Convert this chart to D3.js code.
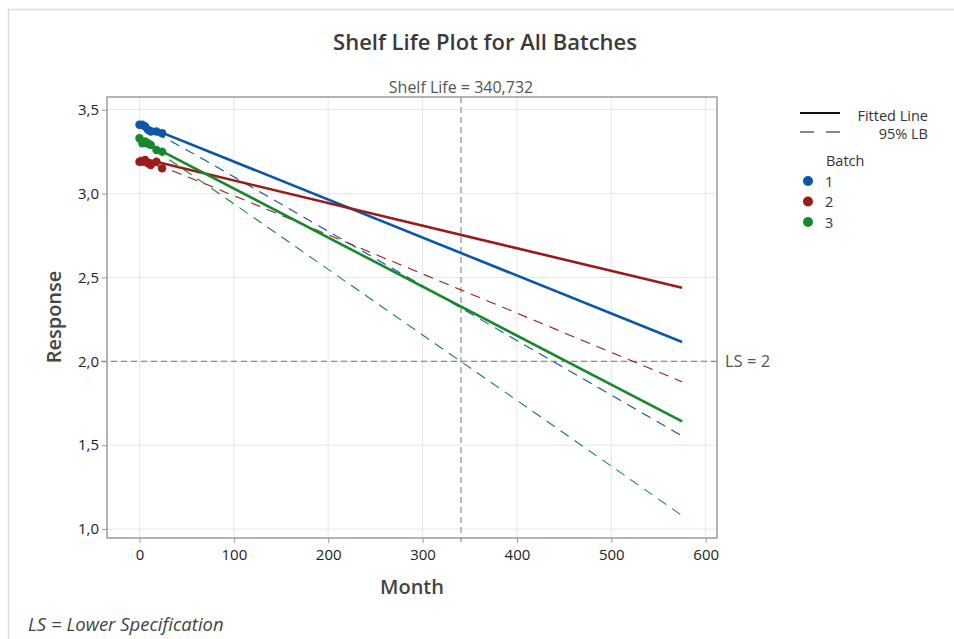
<!DOCTYPE html>
<html>
<head>
<meta charset="utf-8">
<script src="https://cdn.jsdelivr.net/npm/d3@7"></script>
<style>
  html, body { margin: 0; padding: 0; background: #fff; }
  svg { display: block; font-family: "Open Sans", "Noto Sans", sans-serif; }
</style>
</head>
<body>
<svg id="chart" width="954" height="639"></svg>
<script>
// Stability study: response per batch over time (months)
const batches = ["1", "2", "3"];
const batchColors = ["#0b56a8", "#9b1a1a", "#16892c"];

// Observed measurements
const sampleMonths = [0, 3, 6, 9, 12, 18, 24];
const batch1Values = [3.41, 3.41, 3.40, 3.38, 3.37, 3.37, 3.36];
const batch2Values = [3.19, 3.19, 3.20, 3.18, 3.17, 3.19, 3.15];
const batch3Values = [3.33, 3.30, 3.31, 3.30, 3.29, 3.26, 3.25];

// Fitted regression lines (value at start and end month)
const fitMonths = [0, 575];
const batch1Fit = [3.417, 2.115];
const batch2Fit = [3.213, 2.438];
const batch3Fit = [3.322, 1.642];

// One-sided 95% lower confidence bound for each batch
const lbMonths = [0, 25, 50, 100, 150, 200, 300, 400, 500, 575];
const batch1LB = [3.394, 3.336, 3.260, 3.100, 2.938, 2.775, 2.450, 2.124, 1.799, 1.555];
const batch2LB = [3.190, 3.155, 3.102, 2.987, 2.871, 2.754, 2.521, 2.287, 2.053, 1.878];
const batch3LB = [3.299, 3.225, 3.132, 2.939, 2.744, 2.548, 2.157, 1.767, 1.375, 1.080];

// Specification and estimated shelf life
const lowerSpec = 2;
const shelfLife = 340.732;

const xTicks = [0, 100, 200, 300, 400, 500, 600];
const yTicks = [1.0, 1.5, 2.0, 2.5, 3.0, 3.5];

const observed = [batch1Values, batch2Values, batch3Values];
const fits = [batch1Fit, batch2Fit, batch3Fit];
const lbs = [batch1LB, batch2LB, batch3LB];

const svg = d3.select("#chart");
const plot = { left: 107, right: 717, top: 97, bottom: 538 };

const x = d3.scaleLinear().domain([-34.4, 612]).range([plot.left, plot.right]);
const y = d3.scaleLinear().domain([0.9465, 3.5757]).range([plot.bottom, plot.top]);

const fmt = d3.format(".1f");
const commaDec = v => fmt(v).replace(".", ",");

// outer frame
svg.append("path")
  .attr("d", "M8.5,639 L8.5,9.5 L954,9.5")
  .attr("fill", "none").attr("stroke", "#dcdcdc").attr("stroke-width", 1.5);

// title
svg.append("text")
  .attr("x", 485).attr("y", 50)
  .attr("text-anchor", "middle")
  .attr("font-size", 22).attr("font-weight", 600).attr("fill", "#3a3a3a")
  .text("Shelf Life Plot for All Batches");

// gridlines
const grid = svg.append("g");
grid.selectAll("line.gx").data(xTicks).join("line")
  .attr("x1", d => x(d)).attr("x2", d => x(d))
  .attr("y1", plot.top).attr("y2", plot.bottom)
  .attr("stroke", "#e6e6e6").attr("stroke-width", 1);
grid.selectAll("line.gy").data(yTicks).join("line")
  .attr("x1", plot.left).attr("x2", plot.right)
  .attr("y1", d => y(d)).attr("y2", d => y(d))
  .attr("stroke", "#e6e6e6").attr("stroke-width", 1);

// axes
const xAxis = d3.axisBottom(x).tickValues(xTicks).tickSize(5).tickPadding(6).tickFormat(d3.format("d"));
const yAxis = d3.axisLeft(y).tickValues(yTicks).tickSize(5).tickPadding(3).tickFormat(commaDec);

const gx = svg.append("g").attr("transform", `translate(0,${plot.bottom})`).call(xAxis);
const gy = svg.append("g").attr("transform", `translate(${plot.left},0)`).call(yAxis);
[gx, gy].forEach(g => {
  g.select(".domain").remove();
  g.selectAll(".tick line").attr("stroke", "#999");
  g.selectAll(".tick text").attr("font-size", 15).attr("fill", "#222")
    .attr("font-family", "\"Open Sans\", sans-serif");
});

// reference lines: lower spec and shelf life
svg.append("line")
  .attr("x1", plot.left - 6).attr("x2", plot.right)
  .attr("y1", y(lowerSpec)).attr("y2", y(lowerSpec))
  .attr("stroke", "#8c8c8c").attr("stroke-width", 1.2).attr("stroke-dasharray", "6,4");
svg.append("line")
  .attr("x1", x(shelfLife)).attr("x2", x(shelfLife))
  .attr("y1", plot.top).attr("y2", plot.bottom + 4)
  .attr("stroke", "#8c8c8c").attr("stroke-width", 1.2).attr("stroke-dasharray", "6,4");

svg.append("text")
  .attr("x", x(shelfLife)).attr("y", plot.top - 4)
  .attr("text-anchor", "middle").attr("font-size", 16).attr("fill", "#555")
  .text("Shelf Life = " + String(shelfLife).replace(".", ","));
svg.append("text")
  .attr("x", plot.right + 8).attr("y", y(lowerSpec) + 6)
  .attr("font-size", 16.5).attr("fill", "#555")
  .text("LS = " + lowerSpec);

// clip series to the plot area
svg.append("clipPath").attr("id", "plotclip")
  .append("rect").attr("x", plot.left).attr("y", plot.top)
  .attr("width", plot.right - plot.left).attr("height", plot.bottom - plot.top);

const series = svg.append("g").attr("clip-path", "url(#plotclip)");
const line = d3.line().x(d => x(d[0])).y(d => y(d[1]));

// lower bounds (dashed, thin)
lbs.forEach((vals, i) => {
  series.append("path")
    .datum(lbMonths.map((m, j) => [m, vals[j]]))
    .attr("d", d3.line().curve(d3.curveMonotoneX).x(d => x(d[0])).y(d => y(d[1])))
    .attr("fill", "none").attr("stroke", batchColors[i])
    .attr("stroke-width", 1.1).attr("stroke-dasharray", "10,7");
});

// fitted lines
fits.forEach((vals, i) => {
  series.append("path")
    .datum(fitMonths.map((m, j) => [m, vals[j]]))
    .attr("d", line)
    .attr("fill", "none").attr("stroke", batchColors[i])
    .attr("stroke-width", 2.6);
});

// observed points
observed.forEach((vals, i) => {
  series.selectAll(null).data(sampleMonths.map((m, j) => [m, vals[j]])).join("circle")
    .attr("cx", d => x(d[0])).attr("cy", d => y(d[1])).attr("r", 4.2)
    .attr("fill", batchColors[i]);
});

// plot border
svg.append("rect")
  .attr("x", plot.left).attr("y", plot.top)
  .attr("width", plot.right - plot.left).attr("height", plot.bottom - plot.top)
  .attr("fill", "none").attr("stroke", "#9a9a9a").attr("stroke-width", 1.5);

// axis titles
svg.append("text")
  .attr("x", 412).attr("y", 594)
  .attr("text-anchor", "middle").attr("font-size", 20).attr("font-weight", 600).attr("fill", "#444")
  .text("Month");
svg.append("text")
  .attr("transform", "translate(61,317) rotate(-90)")
  .attr("text-anchor", "middle").attr("font-size", 20).attr("font-weight", 600).attr("fill", "#444")
  .text("Response");

// legend
const legend = svg.append("g");
legend.append("line").attr("x1", 800).attr("x2", 840).attr("y1", 113).attr("y2", 113)
  .attr("stroke", "#111").attr("stroke-width", 2.2);
legend.append("text").attr("x", 928).attr("y", 121).attr("text-anchor", "end")
  .attr("font-size", 14.5).attr("fill", "#333").text("Fitted Line");
legend.append("line").attr("x1", 800).attr("x2", 840).attr("y1", 132).attr("y2", 132)
  .attr("stroke", "#111").attr("stroke-width", 1.2).attr("stroke-dasharray", "14,12");
legend.append("text").attr("x", 928).attr("y", 139).attr("text-anchor", "end")
  .attr("font-size", 14.5).attr("fill", "#333").text("95% LB");
legend.append("text").attr("x", 826).attr("y", 166)
  .attr("font-size", 14.5).attr("fill", "#333").text("Batch");
batches.forEach((b, i) => {
  const cy = 181 + i * 20.5;
  legend.append("circle").attr("cx", 808).attr("cy", cy).attr("r", 5).attr("fill", batchColors[i]);
  legend.append("text").attr("x", 825).attr("y", cy + 5.5)
    .attr("font-size", 14.5).attr("fill", "#333").text(b);
});

// footnote
svg.append("text")
  .attr("x", 28).attr("y", 631)
  .attr("font-size", 18.5).attr("font-style", "italic").attr("fill", "#444")
  .text("LS = Lower Specification");
</script>
</body>
</html>
